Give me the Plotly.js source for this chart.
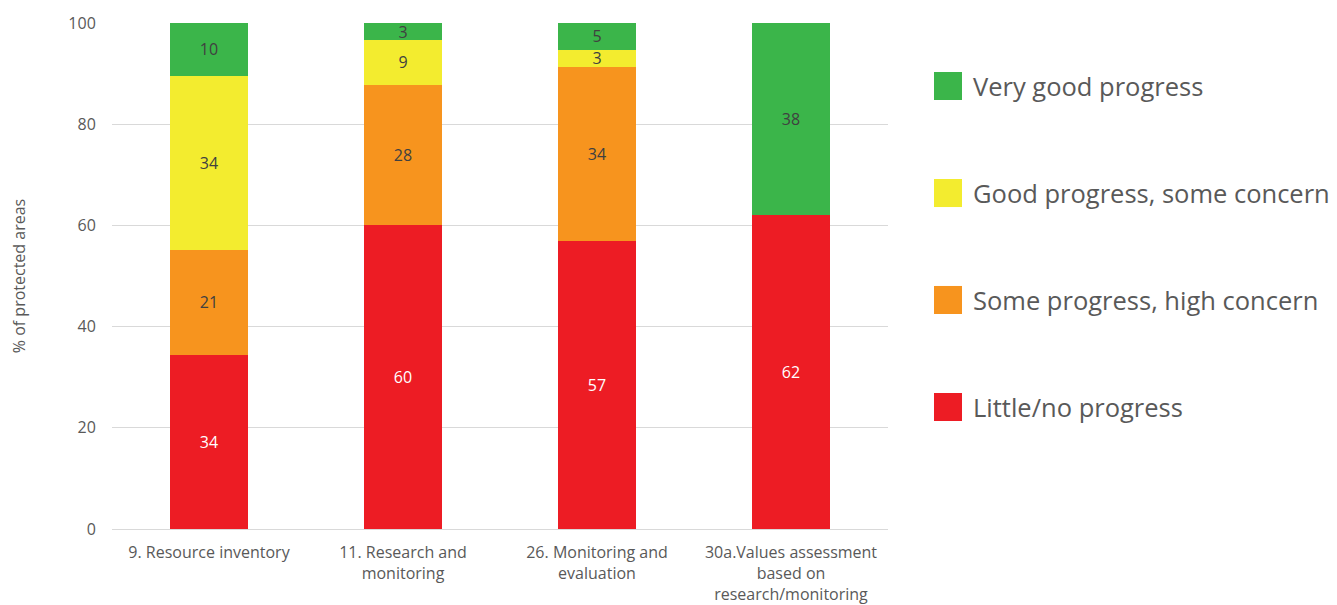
<!DOCTYPE html>
<html>
<head>
<meta charset="utf-8">
<script src="https://cdn.plot.ly/plotly-3.0.1.min.js"></script>
<style>html,body{margin:0;padding:0;background:#fff;}#chart{width:1337px;height:605px;}</style>
</head>
<body>
<div id="chart"></div>
<script>
const categories = ["9. Resource inventory", "11. Research and<br>monitoring", "26. Monitoring and<br>evaluation", "30a.Values assessment<br>based on<br>research/monitoring"];
const seriesNames = ["Little/no progress", "Some progress, high concern", "Good progress, some concern", "Very good progress"];
const littleNo = [34.4, 60.1, 56.9, 62.1];
const someProgress = [20.8, 27.7, 34.4, 0];
const goodProgress = [34.4, 8.8, 3.4, 0];
const veryGood = [10.4, 3.4, 5.3, 37.9];
const colors = ["#ED1C24", "#F7941E", "#F3EC2F", "#3BB54A"];
const textColors = ["#ffffff", "#404040", "#404040", "#404040"];
const yTicks = [0, 20, 40, 60, 80, 100];

const series = [littleNo, someProgress, goodProgress, veryGood];
const font = "'Open Sans', sans-serif";

const traces = series.map((vals, i) => ({
  type: 'bar',
  name: seriesNames[i],
  x: categories,
  y: vals,
  marker: {color: colors[i], line: {width: 0}},
  text: vals.map(v => v > 0 ? Math.round(v).toString() : ''),
  texttemplate: '%{text}',
  textposition: 'inside',
  insidetextanchor: 'middle',
  textangle: 0,
  constraintext: 'none',
  textfont: {family: font, size: 16, color: textColors[i]},
  showlegend: false,
  hoverinfo: 'skip'
}));

// custom legend (large swatches)
const legendY = [0.2411, 0.4526, 0.664, 0.8755];
const shapes = [];
const annotations = [];
seriesNames.forEach((n, i) => {
  shapes.push({type: 'rect', xref: 'paper', yref: 'paper',
    x0: 1.0593, x1: 1.0954, y0: legendY[i] - 0.0277, y1: legendY[i] + 0.0277,
    fillcolor: colors[i], line: {width: 0}});
  annotations.push({xref: 'paper', yref: 'paper', x: 1.1070, y: legendY[i],
    xanchor: 'left', yanchor: 'middle', showarrow: false, text: n,
    font: {family: font, size: 25.5, color: '#595959'}});
});

const layout = {
  width: 1337, height: 605,
  margin: {l: 112, r: 449, t: 23, b: 76},
  paper_bgcolor: '#fff', plot_bgcolor: '#fff',
  barmode: 'stack',
  bargap: 0.6,
  font: {family: font, size: 16, color: '#595959'},
  xaxis: {
    type: 'category',
    showgrid: false,
    showline: true, linecolor: '#d9d9d9', linewidth: 1,
    ticks: 'outside', ticklen: 9, tickcolor: 'rgba(0,0,0,0)',
    tickfont: {family: font, size: 16, color: '#595959'},
    automargin: false
  },
  yaxis: {
    range: [0, 100],
    tickvals: yTicks,
    ticktext: yTicks.map(String),
    showgrid: true, gridcolor: '#d9d9d9', gridwidth: 1,
    zeroline: false,
    showline: false,
    ticks: 'outside', ticklen: 12, tickcolor: 'rgba(0,0,0,0)',
    tickfont: {family: font, size: 16, color: '#595959'},
    title: {text: '% of protected areas', font: {family: font, size: 16, color: '#595959'}, standoff: 38},
    automargin: false
  },
  shapes: shapes,
  annotations: annotations,
  showlegend: false
};

Plotly.newPlot('chart', traces, layout, {displayModeBar: false, staticPlot: true});
</script>
</body>
</html>
